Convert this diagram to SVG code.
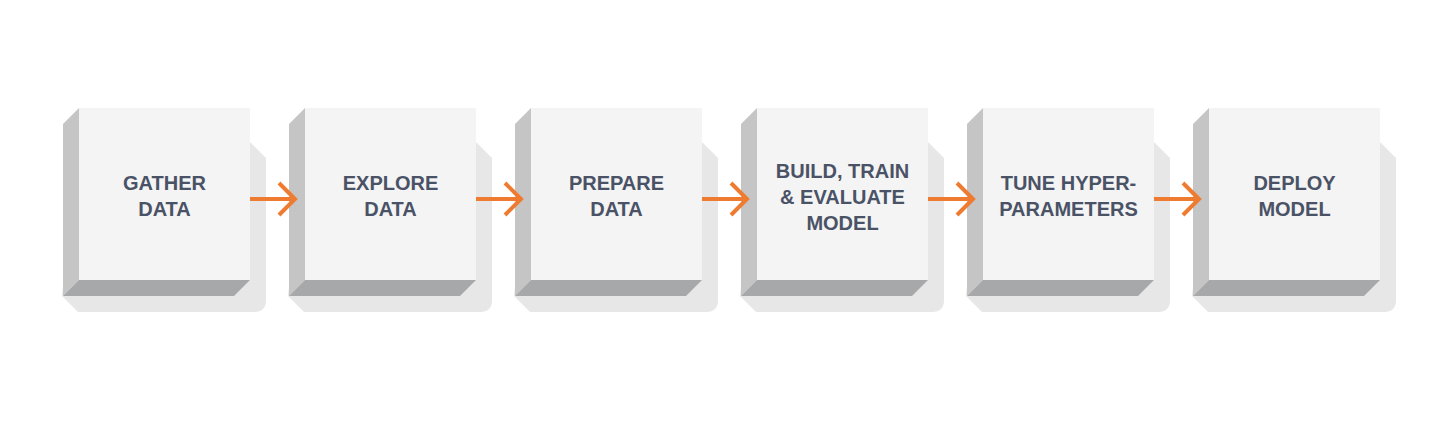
<svg xmlns="http://www.w3.org/2000/svg" width="1442" height="432" viewBox="0 0 1442 432">
<defs>
<style>
.shadow{fill:#e7e7e7}
.side{fill:#c5c5c6}
.bottom{fill:#a7a8aa}
.face{fill:#f4f4f4}
.lbl{font-family:"Liberation Sans",Arial,sans-serif;font-weight:bold;font-size:20px;fill:#4a5266;text-anchor:middle}
.conn{stroke:#ee7b30;stroke-width:4;fill:none;stroke-linecap:butt;stroke-linejoin:miter}
</style>
<g id="block">
<path class="shadow" d="M0,142 L171,142 L187,158 L187,300 Q187,312 175,312 L-1,312 L-17,296 Z"/>
<polygon class="side" points="0,108 -16,124 -16,296 0,280"/>
<polygon class="bottom" points="0,280 171,280 155,296 -16,296"/>
<rect class="face" x="0" y="108" width="171" height="172"/>
</g>
</defs>
<rect width="1442" height="432" fill="#ffffff"/>
<g id="node1"><use href="#block" x="79"/><text class="lbl" x="164.5" y="190">GATHER</text><text class="lbl" x="164.5" y="216">DATA</text></g>
<g id="node2"><use href="#block" x="305"/><text class="lbl" x="390.5" y="190">EXPLORE</text><text class="lbl" x="390.5" y="216">DATA</text></g>
<g id="node3"><use href="#block" x="531"/><text class="lbl" x="616.5" y="190">PREPARE</text><text class="lbl" x="616.5" y="216">DATA</text></g>
<g id="node4"><use href="#block" x="757"/><text class="lbl" x="842.5" y="178">BUILD, TRAIN</text><text class="lbl" x="842.5" y="204">&amp; EVALUATE</text><text class="lbl" x="842.5" y="230">MODEL</text></g>
<g id="node5"><use href="#block" x="983"/><text class="lbl" x="1068.5" y="190">TUNE HYPER-</text><text class="lbl" x="1068.5" y="216">PARAMETERS</text></g>
<g id="node6"><use href="#block" x="1209"/><text class="lbl" x="1294.5" y="190">DEPLOY</text><text class="lbl" x="1294.5" y="216">MODEL</text></g>
<g id="connectors">
<path class="conn" d="M250,199 H294 M279,183 L295,199 L279,215"/>
<path class="conn" d="M476,199 H520 M505,183 L521,199 L505,215"/>
<path class="conn" d="M702,199 H746 M731,183 L747,199 L731,215"/>
<path class="conn" d="M928,199 H972 M957,183 L973,199 L957,215"/>
<path class="conn" d="M1154,199 H1198 M1183,183 L1199,199 L1183,215"/>
</g>
</svg>
